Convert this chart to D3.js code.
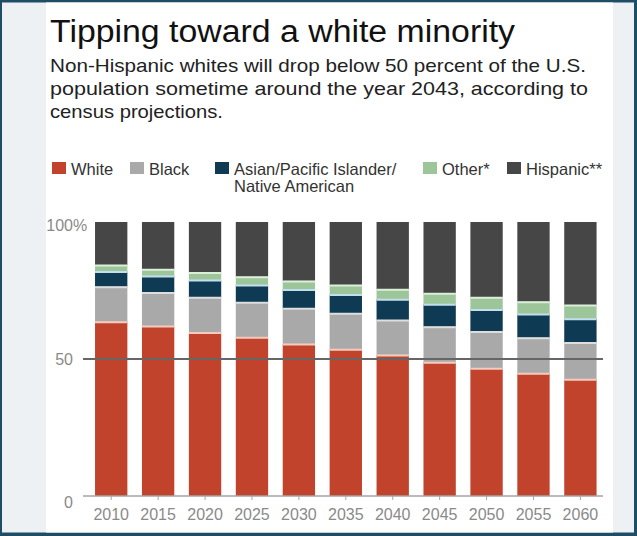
<!DOCTYPE html>
<html>
<head>
<meta charset="utf-8">
<script src="https://cdn.jsdelivr.net/npm/d3@7"></script>
<style>
  html, body { margin: 0; padding: 0; background: #fff; }
  svg { display: block; font-family: "Liberation Sans", Arial, Helvetica, sans-serif; }
</style>
</head>
<body>
<svg id="chart" width="637" height="536"></svg>
<script>
// ---- Data (percent of U.S. population) ----
const years    = [2010, 2015, 2020, 2025, 2030, 2035, 2040, 2045, 2050, 2055, 2060];
const white    = [63.6, 62.0, 59.7, 57.9, 55.5, 53.6, 51.5, 48.8, 46.6, 44.8, 42.6];
const black    = [12.8, 12.3, 12.8, 12.8, 13.0, 13.1, 12.7, 13.0, 13.4, 13.0, 13.4];
const asian    = [5.5, 6.0, 6.3, 6.3, 6.9, 6.8, 7.6, 8.2, 8.1, 8.6, 8.7];
const other    = [2.4, 2.5, 2.8, 3.0, 3.1, 3.5, 3.7, 4.0, 4.4, 4.5, 5.0];
const hispanic = [15.7, 17.2, 18.4, 20.0, 21.5, 23.0, 24.5, 26.0, 27.5, 29.1, 30.3];
const seriesKeys   = ["white", "black", "asian", "other", "hispanic"];
const legendLabels = [["White"], ["Black"], ["Asian/Pacific Islander/", "Native American"], ["Other*"], ["Hispanic**"]];
const yTicks = [0, 50, 100];

const title = "Tipping toward a white minority";
const subtitle = [
  "Non-Hispanic whites will drop below 50 percent of the U.S.",
  "population sometime around the year 2043, according to",
  "census projections."
];

// ---- Styles / layout ----
const colors = { white: "#c1432c", black: "#a9a9a9", asian: "#0e3a54", other: "#9cc59a", hispanic: "#464646" };
const tints  = { white: "#f3cbbf", black: "#dedede", asian: "#c3deed", other: "#dcefd9", hispanic: "#464646" };
const titleWidth = 465;
const subtitleWidths = [536, 538, 173];
const legendX = [52, 130, 215, 423, 507];

const rows = years.map((yr, i) => ({
  year: yr, white: white[i], black: black[i], asian: asian[i], other: other[i], hispanic: hispanic[i]
}));

const svg = d3.select("#chart");
const W = 637, H = 536;

// Frame / background
svg.append("rect").attr("width", W).attr("height", H).attr("fill", "#1f4d66");
svg.append("rect").attr("x", 2).attr("y", 2.5).attr("width", W - 5).attr("height", H - 6).attr("fill", "#eef1f4");
svg.append("rect").attr("x", 46).attr("y", 2.5).attr("width", 567).attr("height", H - 6).attr("fill", "#ffffff");

// Title & subtitle
svg.append("text").attr("x", 50).attr("y", 41.5)
  .attr("font-size", 31).attr("fill", "#111")
  .attr("textLength", titleWidth).attr("lengthAdjust", "spacingAndGlyphs")
  .text(title);
svg.append("g").selectAll("text").data(subtitle).join("text")
  .attr("x", 50).attr("y", (d, i) => 71.5 + i * 23)
  .attr("font-size", 18.5).attr("fill", "#222")
  .attr("textLength", (d, i) => subtitleWidths[i]).attr("lengthAdjust", "spacingAndGlyphs")
  .text(d => d);

// Legend
const lg = svg.append("g").selectAll("g").data(seriesKeys).join("g")
  .attr("transform", (d, i) => `translate(${legendX[i]},0)`);
lg.append("rect").attr("x", 0).attr("y", 162).attr("width", 14).attr("height", 12)
  .attr("fill", d => colors[d]);
lg.append("text").attr("x", 19).attr("y", 175).attr("font-size", 16.5).attr("fill", "#333")
  .selectAll("tspan").data((d, i) => legendLabels[i]).join("tspan")
  .attr("x", 19).attr("dy", (d, j) => j === 0 ? 0 : 17).text(d => d);

// Scales
const x = d3.scaleBand().domain(years).range([88, 603.6]).paddingInner(0.311).paddingOuter(0.15);
const y = d3.scaleLinear().domain([0, 100]).range([496, 222]);

// Stacked bars
const stack = d3.stack().keys(seriesKeys)(rows);
const layers = svg.append("g").selectAll("g").data(stack).join("g")
  .attr("fill", d => colors[d.key]);
layers.selectAll("rect").data(d => d).join("rect")
  .attr("x", d => x(d.data.year))
  .attr("width", x.bandwidth())
  .attr("y", d => y(d[1]))
  .attr("height", d => y(d[0]) - y(d[1]));

// thin pale separators at the top of each lower segment
const seps = svg.append("g");
stack.filter(s => s.key !== "hispanic").forEach(s => {
  seps.selectAll(null).data(s).join("line")
    .attr("x1", d => x(d.data.year)).attr("x2", d => x(d.data.year) + x.bandwidth())
    .attr("y1", d => y(d[1]) + 0.5).attr("y2", d => y(d[1]) + 0.5)
    .attr("stroke", tints[s.key]).attr("stroke-width", 2);
});

// X axis
svg.append("line").attr("x1", 83).attr("x2", 603).attr("y1", y(0)).attr("y2", y(0))
  .attr("stroke", "#a5a5a5").attr("stroke-width", 1.5);
const xAxis = svg.append("g").attr("transform", `translate(0,${y(0)})`)
  .call(d3.axisBottom(x).tickSize(4).tickPadding(8.5));
xAxis.select(".domain").remove();
xAxis.selectAll(".tick line").attr("stroke", "#a5a5a5");
xAxis.selectAll(".tick text").attr("font-size", 16).attr("fill", "#8a8a8a")
  .attr("font-family", "Liberation Sans, Arial, sans-serif");

// Y axis labels
const yAxis = svg.append("g").attr("transform", "translate(76,0)")
  .call(d3.axisLeft(y).tickValues(yTicks).tickSize(0).tickPadding(3));
yAxis.select(".domain").remove();
yAxis.selectAll(".tick text").attr("font-size", 16).attr("fill", "#8a8a8a")
  .attr("font-family", "Liberation Sans, Arial, sans-serif")
  .attr("dy", d => d === 0 ? "0.7em" : (d === 100 ? "0.5em" : "0.35em"));
yAxis.selectAll(".tick").filter(d => d === 100).append("text")
  .attr("x", -3).attr("dy", "0.5em").attr("text-anchor", "start")
  .attr("font-size", 16).attr("fill", "#8a8a8a")
  .attr("font-family", "Liberation Sans, Arial, sans-serif").text("%");

// 50% reference line
svg.append("line").attr("x1", 83).attr("x2", 603).attr("y1", y(50)).attr("y2", y(50))
  .attr("stroke", "#666").attr("stroke-width", 2);
</script>
</body>
</html>
